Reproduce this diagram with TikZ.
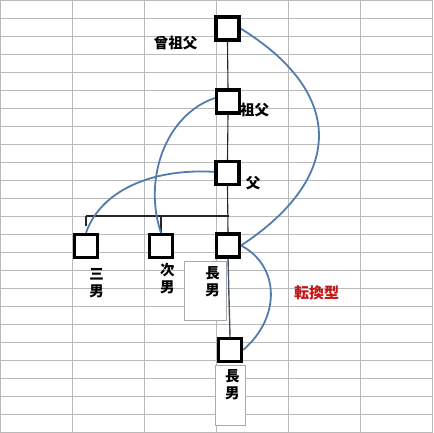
\documentclass[tikz,border=0pt]{standalone}
\usepackage{fontspec}
\setmainfont{Noto Sans CJK JP}
\definecolor{gridc}{RGB}{185,185,185}
\definecolor{curvec}{RGB}{82,124,172}
\definecolor{redc}{RGB}{200,20,20}
\definecolor{tboxc}{RGB}{170,170,170}
\definecolor{linkc}{RGB}{70,85,105}
\pgfdeclarelayer{bg}
\pgfsetlayers{bg,main}
\tikzset{
  gridline/.style={draw=gridc, line width=0.9pt},
  pbox/.style={draw=black, fill=white, line width=3.2pt, minimum size=23pt, inner sep=0pt},
  bond/.style={draw=black!85, line width=1.1pt},
  bondb/.style={draw=linkc, line width=1.4pt},
  curve/.style={draw=curvec, line width=1.8pt},
  tbox/.style={draw=tboxc, fill=white, line width=0.8pt, inner sep=0pt},
  lbl/.style={font=\fontsize{14.5}{17}\selectfont\bfseries, inner sep=0pt, align=center},
  redlbl/.style={font=\fontsize{15}{17}\selectfont\bfseries, text=redc, inner sep=0pt}
}
\begin{document}
\begin{tikzpicture}[x=1pt,y=-1pt]
\useasboundingbox (0,0) rectangle (433,433);
% person boxes (main layer, on top)
\node[pbox] (hiisofu) at (227.5,28.5) {};
\node[pbox] (sofu) at (228,101.5) {};
\node[pbox] (chichi) at (227.5,173) {};
\node[pbox] (san) at (86,246) {};
\node[pbox] (ji) at (161,246) {};
\node[pbox] (cho) at (228,245.5) {};
\node[pbox] (cho2) at (230,350) {};
\begin{pgfonlayer}{bg}
% spreadsheet grid
\foreach \gx in {0.7,72.5,144.4,216.5,288.5,360.6,432.5}
  \draw[gridline] (\gx,0) -- (\gx,433);
\foreach \k in {0,...,24}
  \draw[gridline] (0,0.3+18*\k) -- (433,0.3+18*\k);
% text boxes
\node[tbox, minimum width=42.4pt, minimum height=59pt] (cholbl) at (205.5,290.5) {};
\node[tbox, minimum width=29.6pt, minimum height=60pt] (cho2lbl) at (230.5,395) {};
% labels
\node[lbl] (thiisofu) at (175.5,42.7) {曾祖父};
\node[lbl, anchor=west] (tsofu) at (240,110) {祖父};
\node[lbl] (tchichi) at (253,183) {父};
\node[lbl] (tsan) at (96.5,283) {三\\男};
\node[lbl] (tji) at (167.3,278.3) {次\\男};
\node[lbl] (tcho) at (212.7,281.5) {長\\男};
\node[lbl] (tcho2) at (232.3,384.5) {長\\男};
\node[redlbl] (ttenkan) at (316.7,292.3) {転換型};
% bonds
\coordinate (barL) at (86,216);
\coordinate (barR) at (228.5,216);
\coordinate (sanTick) at (86,226);
\coordinate (jiTop) at (161,216);
\draw[bond] (hiisofu.south) -- (sofu.north);
\draw[bond] (sofu.south) -- (chichi.north);
\draw[bond] (chichi.south) -- (cho.north);
\draw[bond] (barL) -- (barR);
\draw[bond, line width=1.6pt] (barL) -- (sanTick);
\draw[bond] (jiTop) -- (ji.north);
\draw[bondb] (cho.south) -- (cho2.north);
% curves
\draw[curve] (hiisofu.east) .. controls (345,93) and (345,177) .. (cho.east);
\draw[curve] (sofu.165) .. controls (165,115) and (143,180) .. (ji.north);
\draw[curve] (chichi.175) .. controls (150,168) and (100,192) .. (san.north);
\draw[curve] (cho.east) .. controls (280.5,266.5) and (280.5,318) .. (cho2.east);
\end{pgfonlayer}
\end{tikzpicture}
\end{document}
